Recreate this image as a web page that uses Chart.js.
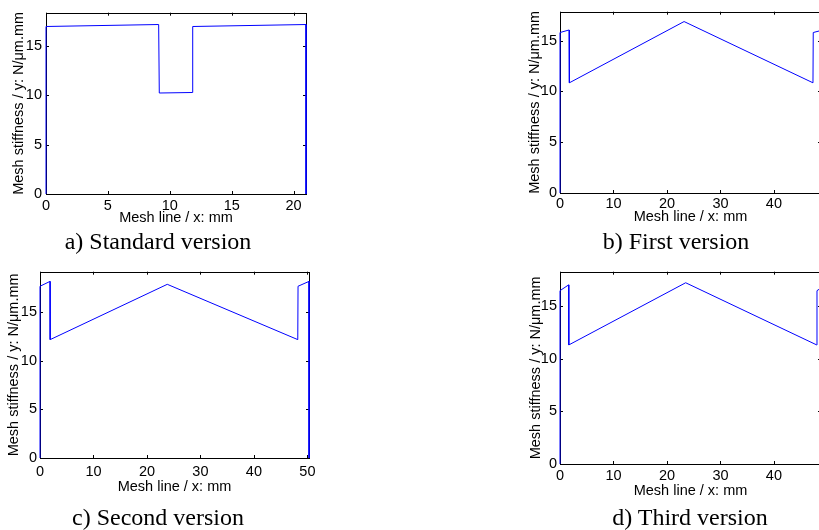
<!DOCTYPE html>
<html>
<head>
<meta charset="utf-8">
<script src="https://cdn.jsdelivr.net/npm/chart.js@4/dist/chart.umd.min.js"></script>
<style>
    html, body { margin: 0; padding: 0; background: #fff; }
    body { width: 819px; height: 530px; position: relative; overflow: hidden; }
    .panel { position: absolute; }
    .caption {
        position: absolute;
        font-family: "Liberation Serif", "Times New Roman", serif;
        font-size: 24px;
        line-height: 24px;
        color: #000;
        white-space: nowrap;
        transform: translateX(-50%);
    }
</style>
</head>
<body>

<canvas id="chartA" class="panel"></canvas>
<canvas id="chartB" class="panel"></canvas>
<canvas id="chartC" class="panel"></canvas>
<canvas id="chartD" class="panel"></canvas>

<div class="caption" style="left:158px; top:229px;">a) Standard version</div>
<div class="caption" style="left:676px; top:229px;">b) First version</div>
<div class="caption" style="left:158px; top:505px;">c) Second version</div>
<div class="caption" style="left:690px; top:505px;">d) Third version</div>

<script>
// data (x in mm, y in N/um.mm)
const standardX = [0, 0, 9.1, 9.15, 11.8, 11.85, 21, 21];
const standardY = [0, 17.0, 17.2, 10.25, 10.3, 17.0, 17.2, 0];

const firstX = [0, 0, 1.7, 1.75, 23.2, 47.3, 47.35, 48.8];
const firstY = [0, 15.8, 16.05, 10.85, 16.88, 10.85, 15.8, 16.0];

const secondX = [0, 0, 1.87, 1.9, 23.8, 48.2, 48.25, 50.3, 50.3];
const secondY = [0, 17.7, 18.2, 12.2, 17.9, 12.2, 17.7, 18.2, 0];

const thirdX = [0, 0, 1.62, 1.65, 23.5, 48.0, 48.05, 48.8];
const thirdY = [0, 16.45, 17.0, 11.3, 17.2, 11.3, 16.45, 16.7];

const xTicksStandard = [0, 5, 10, 15, 20];
const xTicksLong = [0, 10, 20, 30, 40];
const xTicksSecond = [0, 10, 20, 30, 40, 50];
const yTicks = [0, 5, 10, 15];

const xTitle = 'Mesh line / x: mm';
const yTitle = 'Mesh stiffness / y: N/\u03bcm.mm';

document.addEventListener('DOMContentLoaded', () => {

    // matlab style box with inward ticks, drawn under the line
    const boxPlugin = {
        id: 'matlabBox',
        beforeDatasetsDraw(chart) {
            const { ctx, chartArea: a, scales } = chart;
            const len = 3;
            ctx.save();
            ctx.strokeStyle = '#000';
            ctx.lineWidth = 1;
            ctx.beginPath();
            scales.x.ticks.forEach(t => {
                const px = Math.round(scales.x.getPixelForValue(t.value)) + 0.5;
                ctx.moveTo(px, a.bottom); ctx.lineTo(px, a.bottom - len);
                ctx.moveTo(px, a.top); ctx.lineTo(px, a.top + len);
            });
            scales.y.ticks.forEach(t => {
                const py = Math.round(scales.y.getPixelForValue(t.value)) + 0.5;
                ctx.moveTo(a.left, py); ctx.lineTo(a.left + len, py);
                ctx.moveTo(a.right, py); ctx.lineTo(a.right - len, py);
            });
            ctx.stroke();
            ctx.strokeRect(Math.round(a.left) + 0.5, Math.round(a.top) + 0.5,
                Math.round(a.right - a.left), Math.round(a.bottom - a.top));
            ctx.restore();
        }
    };

    const font = { family: '"Liberation Sans", Arial, sans-serif', size: 14.5 };

    function makePanel(id, box, xs, ys, xMax, yMax, xTicks) {
        const canvas = document.getElementById(id);
        canvas.width = box.w;
        canvas.height = box.h;
        canvas.style.left = box.left + 'px';
        canvas.style.top = box.top + 'px';

        new Chart(canvas, {
            type: 'scatter',
            data: {
                datasets: [{
                    data: xs.map((x, i) => ({ x: x, y: ys[i] })),
                    showLine: true,
                    borderColor: '#0000ff',
                    borderWidth: 1,
                    pointRadius: 0,
                    tension: 0,
                    clip: 2
                }]
            },
            options: {
                responsive: false,
                animation: false,
                layout: { padding: { top: box.padTop, right: box.padRight, left: 0, bottom: 0 } },
                plugins: { legend: { display: false }, tooltip: { enabled: false } },
                scales: {
                    x: {
                        type: 'linear',
                        min: 0,
                        max: xMax,
                        grid: { display: false, drawTicks: false },
                        border: { display: false },
                        afterBuildTicks: s => { s.ticks = xTicks.map(v => ({ value: v })); },
                        afterFit: s => { s.height = box.xHeight; },
                        ticks: { font: font, color: '#000', padding: box.xTickPad, maxRotation: 0 },
                        title: { display: true, text: xTitle, font: font, color: '#000', padding: { top: 0, bottom: box.xTitlePad } }
                    },
                    y: {
                        min: 0,
                        max: yMax,
                        grid: { display: false, drawTicks: false },
                        border: { display: false },
                        afterBuildTicks: s => { s.ticks = yTicks.map(v => ({ value: v })); },
                        afterFit: s => { s.width = box.yWidth; },
                        ticks: { font: font, color: '#000', padding: box.yTickPad },
                        title: { display: true, text: yTitle, font: font, color: '#000', padding: { top: box.yTitlePad, bottom: 0 } }
                    }
                }
            },
            plugins: [boxPlugin]
        });
    }

    // 1. Standard version
    makePanel('chartA',
        { left: 0, top: 0, w: 330, h: 232, yWidth: 46, xHeight: 38, padTop: 7, padRight: 24,
          xTickPad: 3, xTitlePad: 5, yTickPad: 4, yTitlePad: 10 },
        standardX, standardY, 21, 18.4, xTicksStandard);

    // 2. First version
    makePanel('chartB',
        { left: 520, top: 0, w: 340, h: 232, yWidth: 40, xHeight: 39, padTop: 9, padRight: 39,
          xTickPad: 2, xTitlePad: 6, yTickPad: 3, yTitlePad: 6 },
        firstX, firstY, 48.8, 17.85, xTicksLong);

    // 3. Second version
    makePanel('chartC',
        { left: 0, top: 260, w: 330, h: 270, yWidth: 40, xHeight: 72, padTop: 10, padRight: 21,
          xTickPad: 5, xTitlePad: 34, yTickPad: 3, yTitlePad: 5 },
        secondX, secondY, 50.3, 19.2, xTicksSecond);

    // 4. Third version
    makePanel('chartD',
        { left: 520, top: 260, w: 340, h: 270, yWidth: 40, xHeight: 66, padTop: 9, padRight: 39,
          xTickPad: 3, xTitlePad: 30, yTickPad: 3, yTitlePad: 7 },
        thirdX, thirdY, 48.8, 18.25, xTicksLong);
});
</script>
</body>
</html>
